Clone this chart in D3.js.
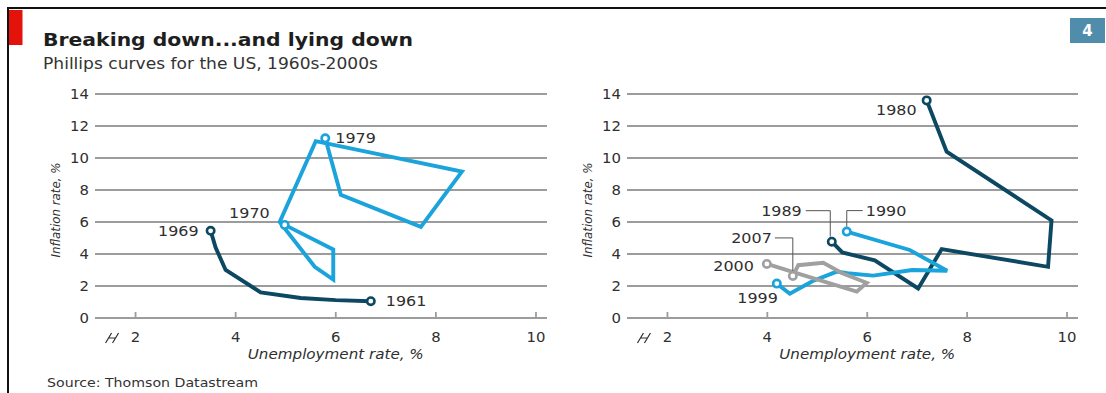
<!DOCTYPE html>
<html><head><meta charset="utf-8">
<script src="https://cdn.jsdelivr.net/npm/d3@7"></script>
<style>body{margin:0;background:#fff}svg{display:block}text{font-family:"DejaVu Sans",sans-serif}</style>
</head><body><svg id="c" width="1106" height="393"></svg>
<script>
// ---- data ----
const yTicks = [0, 2, 4, 6, 8, 10, 12, 14];
const xTicks = [2, 4, 6, 8, 10];
const s1960sUnemp = [6.7, 6.0, 5.3, 4.5, 3.8, 3.6, 3.5];
const s1960sInfl  = [1.05, 1.12, 1.25, 1.6, 3.0, 4.4, 5.45];
const s1970sUnemp = [4.98, 5.95, 5.95, 5.58, 4.88, 5.6, 8.52, 7.7, 6.1, 5.79];
const s1970sInfl  = [5.82, 4.28, 2.4, 3.2, 6.0, 11.05, 9.15, 5.7, 7.7, 11.23];
const s1980sUnemp = [7.19, 7.59, 9.69, 9.62, 7.49, 7.02, 6.15, 5.5, 5.29];
const s1980sInfl  = [13.6, 10.4, 6.1, 3.2, 4.3, 1.85, 3.6, 4.1, 4.77];
const s1990sUnemp = [5.59, 6.85, 7.6, 6.9, 6.12, 5.6, 5.39, 4.9, 4.45, 4.19];
const s1990sInfl  = [5.4, 4.25, 2.95, 3.0, 2.65, 2.8, 2.9, 2.3, 1.52, 2.15];
const s2000sUnemp = [3.99, 4.7, 5.79, 5.99, 5.5, 5.12, 4.62, 4.51];
const s2000sInfl  = [3.38, 2.7, 1.65, 2.2, 2.8, 3.45, 3.3, 2.63];
const years = {s1960s: ["1961", "1969"], s1970s: ["1970", "1979"], s1980s: ["1980", "1989"], s1990s: ["1990", "1999"], s2000s: ["2000", "2007"]};
const title = "Breaking down...and lying down";
const subtitle = "Phillips curves for the US, 1960s-2000s";
const source = "Source: Thomson Datastream";
const xTitle = "Unemployment rate, %";
const yTitle = "Inflation rate, %";

// ---- drawing ----
const svg = d3.select("#c");
const DARK = "#0c4862", LIGHT = "#1ba3dc", GREY = "#a0a0a0", GRID = "#9c9c9c", TXT = "#2f2f2f";

function fit(sel, w) { sel.attr("textLength", w).attr("lengthAdjust", "spacingAndGlyphs"); }
function stretch(sel, k) {
  sel.each(function () { const L = this.getComputedTextLength(); d3.select(this).attr("textLength", L * k).attr("lengthAdjust", "spacingAndGlyphs"); });
}

// frame
svg.append("line").attr("x1", 7).attr("x2", 1106).attr("y1", 8).attr("y2", 8).attr("stroke", "#111").attr("stroke-width", 2);
svg.append("line").attr("x1", 8).attr("x2", 8).attr("y1", 7).attr("y2", 393).attr("stroke", "#111").attr("stroke-width", 2);
svg.append("rect").attr("x", 9).attr("y", 10).attr("width", 13.5).attr("height", 35).attr("fill", "#e3120b");
svg.append("rect").attr("x", 1070).attr("y", 18).attr("width", 35).attr("height", 25).attr("fill", "#4f8dab");
svg.append("text").attr("x", 1087.5).attr("y", 36).attr("text-anchor", "middle").attr("fill", "#fff")
  .attr("font-weight", "bold").attr("font-size", 15).text("4");

svg.append("text").attr("x", 43).attr("y", 46).attr("font-size", 18.5).attr("font-weight", "bold")
  .attr("fill", "#1e1e1e").text(title).call(fit, 370);
svg.append("text").attr("x", 43).attr("y", 68.5).attr("font-size", 15).attr("fill", "#333")
  .text(subtitle).call(fit, 335);
svg.append("text").attr("x", 47).attr("y", 386.5).attr("font-size", 12).attr("fill", "#333")
  .text(source).call(fit, 211);

const y = d3.scaleLinear().domain([0, 14]).range([318, 94]);

function panel(x0, x1, series) {
  const x = d3.scaleLinear().domain([1.19, 10.22]).range([x0, x1]);
  const g = svg.append("g");
  // gridlines
  g.selectAll(".grid").data(yTicks).join("line")
    .attr("x1", x0).attr("x2", x1).attr("y1", d => y(d)).attr("y2", d => y(d))
    .attr("stroke", GRID).attr("stroke-width", 1.8);
  // y tick labels
  g.selectAll(".yl").data(yTicks).join("text")
    .attr("x", x0 - 6).attr("y", d => y(d)).attr("dy", "0.36em").attr("text-anchor", "end")
    .attr("font-size", 13.5).attr("fill", TXT).text(d => d).call(stretch, 1.1);
  // x ticks
  g.selectAll(".xt").data(xTicks).join("line")
    .attr("x1", d => x(d)).attr("x2", d => x(d)).attr("y1", y(0)).attr("y2", y(0) - 6)
    .attr("stroke", GRID).attr("stroke-width", 1.8);
  g.selectAll(".xl").data(xTicks).join("text")
    .attr("x", d => x(d)).attr("y", 342).attr("text-anchor", "middle")
    .attr("font-size", 13.5).attr("fill", TXT).text(d => d).call(stretch, 1.1);
  // axis break symbol
  const bx = x(2) - 30;
  g.append("path").attr("d", `M${bx},343 L${bx + 6},333 M${bx + 3},338 L${bx + 10},338 M${bx + 7},343 L${bx + 13},333`)
    .attr("stroke", TXT).attr("stroke-width", 1.2).attr("fill", "none");
  // axis titles
  g.append("text").attr("x", (x(2) + x(10)) / 2).attr("y", 359).attr("text-anchor", "middle")
    .attr("font-size", 13.5).attr("font-style", "italic").attr("fill", TXT).text(xTitle).call(fit, 176);
  g.append("text").attr("transform", `translate(${x0 - 35},210) rotate(-90)`).attr("text-anchor", "middle")
    .attr("font-size", 12).attr("font-style", "italic").attr("fill", TXT).text(yTitle).call(fit, 95);
  // series
  const line = d3.line().x(d => x(d[0])).y(d => y(d[1]));
  series.forEach(s => {
    const pts = d3.zip(s.u, s.i);
    g.append("path").datum(pts).attr("d", line).attr("fill", "none").attr("stroke", s.c)
      .attr("stroke-width", 3.9).attr("stroke-linejoin", "miter");
    [pts[0], pts[pts.length - 1]].forEach(p => {
      g.append("circle").attr("cx", x(p[0])).attr("cy", y(p[1])).attr("r", 3.7)
        .attr("fill", "#fff").attr("stroke", s.c).attr("stroke-width", 2.6);
    });
    s.labels.forEach(l => {
      const p = l.end ? pts[pts.length - 1] : pts[0];
      const px = x(p[0]), py = y(p[1]);
      g.append("text").attr("x", px + l.dx).attr("y", py + l.dy).attr("dy", "0.36em")
        .attr("text-anchor", l.anchor).attr("font-size", 14.5).attr("fill", TXT).text(l.text).call(stretch, 1.1);
      if (l.leader) {
        const pth = l.leader.map(q => [px + q[0], py + q[1]]);
        g.append("path").attr("d", d3.line()(pth)).attr("fill", "none").attr("stroke", "#555").attr("stroke-width", 1);
      }
    });
  });
  return x;
}

panel(95, 547, [
  {u: s1960sUnemp, i: s1960sInfl, c: DARK, labels: [
    {end: false, text: years.s1960s[0], dx: 15, dy: 0, anchor: "start"},
    {end: true, text: years.s1960s[1], dx: -12, dy: 0, anchor: "end"}]},
  {u: s1970sUnemp, i: s1970sInfl, c: LIGHT, labels: [
    {end: false, text: years.s1970s[0], dx: -15, dy: -12, anchor: "end"},
    {end: true, text: years.s1970s[1], dx: 10, dy: -1, anchor: "start"}]}
]);

panel(627, 1078, [
  {u: s1980sUnemp, i: s1980sInfl, c: DARK, labels: [
    {end: false, text: years.s1980s[0], dx: -10, dy: 9, anchor: "end"},
    {end: true, text: years.s1980s[1], dx: -30, dy: -31, anchor: "end",
      leader: [[-26, -31], [-1.5, -31], [-1.5, -5]]}]},
  {u: s1990sUnemp, i: s1990sInfl, c: LIGHT, labels: [
    {end: false, text: years.s1990s[0], dx: 19, dy: -21, anchor: "start",
      leader: [[16, -21], [0, -21], [0, -5]]},
    {end: true, text: years.s1990s[1], dx: 1, dy: 14, anchor: "end"}]},
  {u: s2000sUnemp, i: s2000sInfl, c: GREY, labels: [
    {end: false, text: years.s2000s[0], dx: -13, dy: 2, anchor: "end"},
    {end: true, text: years.s2000s[1], dx: -21, dy: -38, anchor: "end",
      leader: [[-18, -38], [0, -38], [0, -5]]}]}
]);
</script></body></html>
